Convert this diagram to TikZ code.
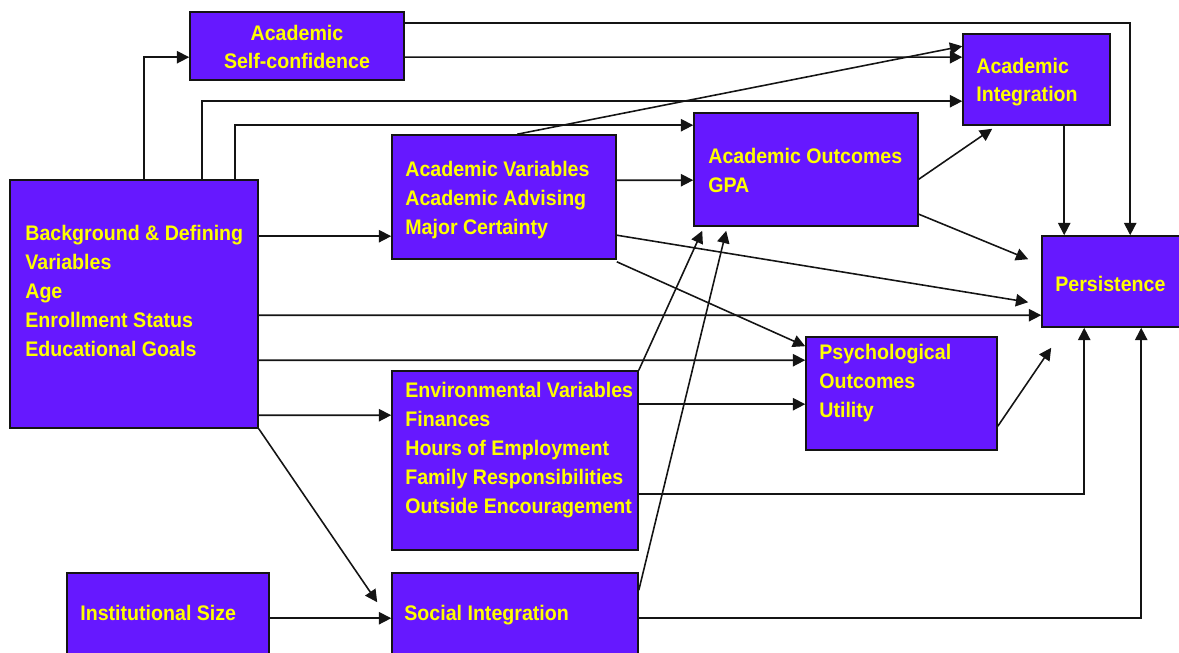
\documentclass[tikz,border=0pt]{standalone}
\usepackage{fontspec}
\setmainfont{Liberation Sans}[FakeStretch=0.93]
\usetikzlibrary{arrows.meta,calc,fit}
\definecolor{boxpurple}{RGB}{102,24,255}
\definecolor{labelyellow}{RGB}{255,255,0}
\definecolor{wire}{RGB}{20,20,20}
\tikzset{
  box/.style={draw=wire, line width=0.9pt, fill=boxpurple, inner sep=0pt},
  lbl/.style={text=labelyellow, inner sep=0pt, anchor=base west, align=left,
    font=\bfseries\fontsize{12pt}{16.4pt}\selectfont},
  arr/.style={draw=wire, line width=0.9pt, -{Triangle[length=7pt,width=7pt]}},
}
\begin{document}
\begin{tikzpicture}[x=0.02cm, y=-0.02cm]
\useasboundingbox (0,0) rectangle (1179,652);

% boxes
\node[box, fit={(190,12) (404,80)}] (asc) {};
\node[box, fit={(963,34) (1110,125)}] (ai) {};
\node[box, fit={(392,135) (616,259)}] (av) {};
\node[box, fit={(694,113) (918,226)}] (ao) {};
\node[box, fit={(10,180) (258,428)}] (bg) {};
\node[box, fit={(1042,236) (1195,327)}] (per) {};
\node[box, fit={(806,337) (997,450)}] (psy) {};
\node[box, fit={(392,371) (638,550)}] (env) {};
\node[box, fit={(67,573) (269,665)}] (is) {};
\node[box, fit={(392,573) (638,665)}] (si) {};

% labels (multi-line labels are placed by the baseline of their last line)
\node[lbl, anchor=base, align=center] (asct) at (297,69) {Academic\\Self-confidence};
\node[lbl] (ait) at (976,102) {Academic\\Integration};
\node[lbl] (avt) at (405,234) {Academic Variables\\Academic Advising\\Major Certainty};
\node[lbl] (aot) at (708,192) {Academic Outcomes\\GPA};
\node[lbl] (bgt) at (25,356) {Background \& Defining\\Variables\\Age\\Enrollment Status\\Educational Goals};
\node[lbl] (pert) at (1055,291) {Persistence};
\node[lbl] (psyt) at (819,417) {Psychological\\Outcomes\\Utility};
\node[lbl] (envt) at (405,513) {Environmental Variables\\Finances\\Hours of Employment\\Family Responsibilities\\Outside Encouragement};
\node[lbl] (ist) at (80,620) {Institutional Size};
\node[lbl] (sit) at (404,620) {Social Integration};

% connectors from background variables
\draw[arr] ($(bg.north west)+(135,0)$) |- ($(asc.north west)+(0,46)$);
\draw[arr] ($(bg.north west)+(193,0)$) |- ($(ai.north west)+(0,68)$);
\draw[arr] ($(bg.north west)+(226,0)$) |- ($(ao.north west)+(0,13)$);
\draw[arr] ($(bg.north east)+(0,57)$) -- ($(av.north west)+(0,102)$);
\draw[arr] ($(bg.north east)+(0,136)$) -- ($(per.north west)+(0,80)$);
\draw[arr] ($(bg.north east)+(0,181)$) -- ($(psy.north west)+(0,24)$);
\draw[arr] ($(bg.north east)+(0,236)$) -- ($(env.north west)+(0,45)$);
\draw[arr] (bg.south east) -- ($(si.north west)+(-14,30)$);

% academic self-confidence
\draw[arr] ($(asc.north east)+(0,12)$) -| ($(per.north west)+(89,0)$);
\draw[arr] ($(asc.north east)+(0,46)$) -- ($(ai.north west)+(0,24)$);

% academic variables
\draw[arr] ($(av.north west)+(126,0)$) -- ($(ai.north west)+(0,13)$);
\draw[arr] ($(av.north east)+(0,46)$) -- ($(ao.north west)+(0,68)$);
\draw[arr] ($(av.north east)+(0,101)$) -- ($(per.north west)+(-13,67)$);
\draw[arr] ($(av.south east)+(0,2)$) -- ($(psy.north west)+(0,10)$);

% academic outcomes
\draw[arr] ($(ao.north east)+(0,67)$) -- ($(ai.south west)+(30,3)$);
\draw[arr] ($(ao.north east)+(0,102)$) -- ($(per.north west)+(-13,24)$);

% academic integration
\draw[arr] ($(ai.south west)+(102,0)$) -- ($(per.north west)+(23,0)$);

% environmental variables
\draw[arr] ($(env.north east)+(0,34)$) -- ($(psy.north west)+(0,68)$);
\draw[arr] ($(env.north east)+(0,124)$) -| ($(per.south west)+(43,0)$);
\draw[arr] (env.north east) -- ($(ao.south west)+(9,4)$);

% social integration and institutional size
\draw[arr] ($(si.north east)+(0,18)$) -- ($(ao.south west)+(33,4)$);
\draw[arr] ($(si.north east)+(0,46)$) -| ($(per.south west)+(100,0)$);
\draw[arr] ($(is.north east)+(0,46)$) -- ($(si.north west)+(0,46)$);

% psychological outcomes
\draw[arr] ($(psy.north east)+(0,90)$) -- ($(per.south west)+(10,20)$);
\end{tikzpicture}
\end{document}
